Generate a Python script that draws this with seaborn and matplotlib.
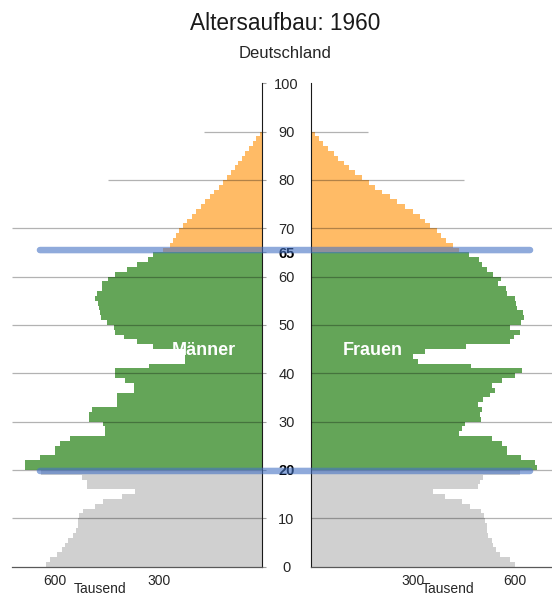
import numpy as np
import pandas as pd
import matplotlib.pyplot as plt
from matplotlib.patches import ConnectionPatch
import seaborn as sns

# Altersjahre 0..89, Werte in Tausend
ages = list(range(90))
maenner = [626, 615, 595, 581, 571, 562, 547, 539, 533, 533,
           530, 520, 484, 460, 407, 369, 507, 507, 523, 640,
           687, 687, 644, 600, 600, 586, 557, 457, 457, 460,
           501, 501, 494, 422, 422, 422, 373, 373, 398, 426,
           426, 328, 224, 224, 224, 316, 364, 402, 426, 431,
           449, 468, 470, 472, 475, 484, 480, 465, 465, 446,
           427, 393, 364, 330, 318, 287, 267, 258, 250, 240,
           231, 218, 205, 192, 178, 165, 152, 140, 127, 115,
           103, 92, 80, 70, 60, 50, 40, 28, 18, 8]
frauen = [601, 586, 556, 546, 537, 532, 522, 519, 517, 514,
          510, 500, 468, 444, 395, 361, 493, 498, 506, 615,
          664, 660, 617, 578, 578, 562, 532, 436, 444, 453,
          501, 498, 503, 493, 508, 527, 541, 532, 562, 601,
          620, 471, 316, 302, 336, 457, 586, 599, 615, 586,
          617, 627, 625, 608, 604, 601, 576, 574, 552, 559,
          537, 519, 503, 496, 466, 436, 417, 398, 384, 370,
          350, 336, 320, 300, 277, 253, 233, 209, 190, 170,
          150, 130, 114, 98, 81, 67, 52, 37, 24, 12]

def gruppe(a):
    if a < 20:
        return 'jung'
    elif a < 65:
        return 'mittel'
    return 'alt'

df = pd.DataFrame({'age': ages, 'maenner': maenner, 'frauen': frauen})
df['gruppe'] = df['age'].apply(gruppe)

colors = {'jung': '#d0d0d0', 'mittel': '#64a558', 'alt': '#ffbb66'}
hue_order = ['jung', 'mittel', 'alt']

# Hilfslinien (Länge je Seite in Tausend)
grid_ages = [10, 20, 30, 40, 50, 60, 70, 80, 90]
grid_left = [725, 725, 725, 725, 725, 725, 725, 447, 170]
grid_right = [725, 725, 725, 725, 725, 725, 725, 450, 168]

# blaue Markierungen bei 20 und 65
marker_ages = [19.8, 65.5]
marker_left = [644, 644]
marker_right = [645, 645]

yticks = [0, 10, 20, 30, 40, 50, 60, 65, 70, 80, 90, 100]
xticks = [300, 600]
xmax = 725

sns.set_style('white')
plt.rcParams['font.family'] = ['Liberation Sans', 'DejaVu Sans']

fig = plt.figure(figsize=(5.52, 5.97), dpi=100)
ax_l = fig.add_axes([0.0217, 0.0508, 0.4536, 0.8097])
ax_r = fig.add_axes([0.5629, 0.0508, 0.4466, 0.8097])

for ax, col in [(ax_l, 'maenner'), (ax_r, 'frauen')]:
    sns.histplot(data=df, y='age', weights=col, hue='gruppe', hue_order=hue_order,
                 palette=colors, bins=90, binrange=(0, 90), alpha=1, linewidth=0,
                 legend=False, ax=ax)
    ax.set_ylim(0, 100)
    ax.set_xlabel('')
    ax.set_ylabel('')
    ax.set_xticks(xticks, labels=[str(t) for t in xticks])
    ax.tick_params(axis='x', length=2.5, width=0.8, color='#808080', pad=3,
                   labelsize=10, labelcolor='#262626')
    for s in ['top', 'left', 'right']:
        ax.spines[s].set_visible(False)
    ax.spines['bottom'].set_color('#595959')
    ax.spines['bottom'].set_linewidth(0.9)

ax_l.set_xlim(xmax, 0)
ax_r.set_xlim(0, xmax)

ax_l.spines['right'].set_visible(True)
ax_l.spines['right'].set_color('#1a1a1a')
ax_r.spines['left'].set_visible(True)
ax_r.spines['left'].set_color('#1a1a1a')

ax_l.hlines(grid_ages, 0, grid_left, color='black', alpha=0.3, lw=0.9, zorder=3)
ax_r.hlines(grid_ages, 0, grid_right, color='black', alpha=0.3, lw=0.9, zorder=3)

# Alters-Beschriftung in der Mitte
ax_l.yaxis.tick_right()
ax_l.set_yticks(yticks, labels=[str(t) for t in yticks])
ax_l.tick_params(axis='y', length=3, width=0.8, color='#a0a0a0', pad=14.3,
                 labelsize=10.5, labelcolor='#262626')
for lab in ax_l.get_yticklabels():
    lab.set_horizontalalignment('center')
    if lab.get_text() in ('20', '65'):
        lab.set_fontweight('bold')
        lab.set_color('black')
ax_r.set_yticks(yticks, labels=[])
ax_r.tick_params(axis='y', length=3, width=0.8, color='#a0a0a0')

# blaue Linien
for a, xl, xr in zip(marker_ages, marker_left, marker_right):
    con = ConnectionPatch(xyA=(xl, a), coordsA=ax_l.transData,
                          xyB=(xr, a), coordsB=ax_r.transData,
                          color='#4472c4', alpha=0.6, lw=4.7, capstyle='round',
                          zorder=5)
    fig.add_artist(con)

ax_l.text(169, 44.8, 'Männer', color='white', fontsize=13, fontweight='bold',
          ha='center', va='center', zorder=6)
ax_r.text(182, 44.8, 'Frauen', color='white', fontsize=13, fontweight='bold',
          ha='center', va='center', zorder=6)

ax_l.text(470, -0.0605, 'Tausend', transform=ax_l.get_xaxis_transform(),
          ha='center', va='bottom', fontsize=10, color='#262626')
ax_r.text(405, -0.0605, 'Tausend', transform=ax_r.get_xaxis_transform(),
          ha='center', va='bottom', fontsize=10, color='#262626')

fig.text(0.516, 0.96, 'Altersaufbau: 1960', ha='center', va='center', fontsize=16.3,
         color='#1a1a1a')
fig.text(0.516, 0.911, 'Deutschland', ha='center', va='center', fontsize=12,
         color='#262626')

fig.savefig('out.png', dpi=100)
